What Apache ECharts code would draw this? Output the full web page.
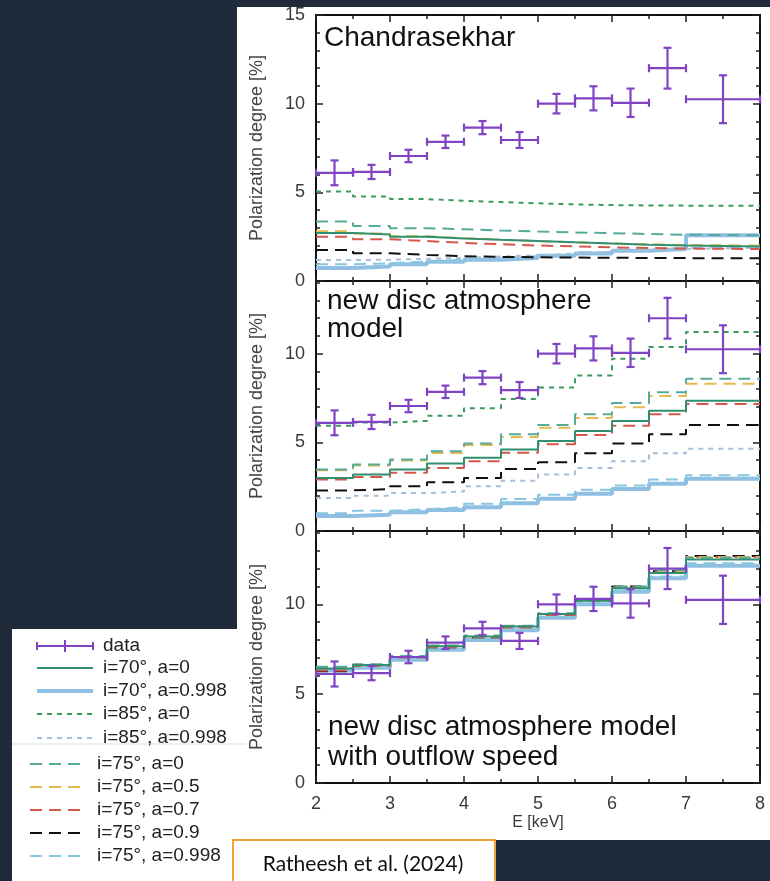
<!DOCTYPE html>
<html>
<head>
<meta charset="utf-8">
<script src="https://cdn.jsdelivr.net/npm/echarts@6/dist/echarts.min.js"></script>
<style>
  html, body { margin: 0; padding: 0; background: #1f2a3b; }
  #chart { width: 770px; height: 881px; }
</style>
</head>
<body>
<div id="chart"></div>
<script>
// energy bins [keV]; the last bin is 7-8
const binEdges = [2, 2.5, 3, 3.5, 4, 4.5, 5, 5.5, 6, 6.5, 7, 8];

// measured polarization degree (same in all three panels)
const dataE = [2.25, 2.75, 3.25, 3.75, 4.25, 4.75, 5.25, 5.75, 6.25, 6.75, 7.5];
const dataEErr = [0.25, 0.25, 0.25, 0.25, 0.25, 0.25, 0.25, 0.25, 0.25, 0.25, 0.5];
const dataPD = [6.1, 6.15, 7.05, 7.85, 8.65, 7.95, 10.0, 10.3, 10.05, 12.0, 10.25];
const dataPDErr = [0.7, 0.4, 0.35, 0.35, 0.37, 0.45, 0.55, 0.68, 0.8, 1.15, 1.35];

// panel 1: Chandrasekhar
const ch_i70a0   = [2.7, 2.62, 2.5, 2.4, 2.32, 2.25, 2.18, 2.12, 2.05, 2.0, 1.95];
const ch_i70a998 = [0.73, 0.82, 0.95, 1.08, 1.2, 1.3, 1.42, 1.55, 1.7, 1.8, 2.58];
const ch_i85a0   = [5.04, 4.76, 4.62, 4.52, 4.45, 4.38, 4.32, 4.28, 4.26, 4.25, 4.25];
const ch_i85a998 = [1.18, 1.2, 1.25, 1.3, 1.38, 1.45, 1.55, 1.65, 1.72, 1.8, 1.88];
const ch_i75a0   = [3.35, 3.1, 2.98, 2.92, 2.85, 2.79, 2.74, 2.7, 2.65, 2.61, 2.57];
const ch_i75a05  = [2.8, 2.68, 2.52, 2.42, 2.33, 2.25, 2.18, 2.12, 2.07, 2.03, 2.0];
const ch_i75a07  = [2.5, 2.35, 2.25, 2.15, 2.07, 2.0, 1.95, 1.9, 1.86, 1.83, 1.8];
const ch_i75a09  = [1.75, 1.56, 1.47, 1.4, 1.36, 1.34, 1.32, 1.31, 1.3, 1.29, 1.28];
const ch_i75a998 = [0.95, 1.0, 1.1, 1.2, 1.3, 1.4, 1.5, 1.62, 1.75, 1.85, 1.95];

// panel 2: new disc atmosphere model
const nd_i70a0   = [2.99, 3.18, 3.47, 3.81, 4.13, 4.6, 5.08, 5.64, 6.21, 6.78, 7.35];
const nd_i70a998 = [0.85, 0.91, 1.06, 1.19, 1.34, 1.57, 1.82, 2.1, 2.37, 2.67, 2.94];
const nd_i85a0   = [5.93, 6.12, 6.21, 6.5, 6.93, 7.44, 8.1, 8.77, 9.72, 10.38, 11.23];
const nd_i85a998 = [1.86, 1.99, 2.14, 2.23, 2.52, 2.84, 3.18, 3.56, 3.94, 4.38, 4.64];
const nd_i75a0   = [3.47, 3.75, 4.03, 4.5, 4.94, 5.45, 5.98, 6.59, 7.22, 7.82, 8.58];
const nd_i75a05  = [3.42, 3.7, 3.98, 4.4, 4.85, 5.3, 5.82, 6.38, 6.98, 7.62, 8.3];
const nd_i75a07  = [2.9, 3.05, 3.28, 3.56, 3.94, 4.41, 4.89, 5.42, 5.93, 6.59, 7.16];
const nd_i75a09  = [2.29, 2.37, 2.52, 2.75, 2.99, 3.5, 3.88, 4.38, 4.94, 5.45, 5.98];
const nd_i75a998 = [1.0, 1.14, 1.23, 1.34, 1.53, 1.8, 2.05, 2.33, 2.56, 2.9, 3.14];

// panel 3: new disc atmosphere model with outflow speed
const of_i70a0   = [6.4, 6.6, 7.05, 7.65, 8.2, 8.75, 9.45, 10.2, 10.9, 11.75, 12.5];
const of_i70a998 = [6.3, 6.45, 6.9, 7.45, 8.0, 8.55, 9.25, 10.0, 10.7, 11.45, 12.15];
const of_i75a0   = [6.5, 6.65, 7.1, 7.7, 8.25, 8.8, 9.5, 10.3, 11.0, 11.9, 12.6];
const of_i75a05  = [6.45, 6.62, 7.08, 7.68, 8.22, 8.78, 9.48, 10.25, 10.95, 11.8, 12.65];
const of_i75a07  = [6.3, 6.55, 7.02, 7.6, 8.15, 8.7, 9.4, 10.2, 10.95, 11.8, 12.65];
const of_i75a09  = [6.25, 6.6, 7.05, 7.6, 8.15, 8.75, 9.45, 10.25, 11.0, 11.85, 12.7];
const of_i75a998 = [6.35, 6.5, 6.95, 7.5, 8.05, 8.6, 9.3, 10.05, 10.75, 11.55, 12.3];

const panelTitles = [['Chandrasekhar'], ['new disc atmosphere', 'model'], ['new disc atmosphere model', 'with outflow speed']];
const yMax = [15, 14.1, 14.1];
const legendLabels = ['data', 'i=70°, a=0', 'i=70°, a=0.998', 'i=85°, a=0', 'i=85°, a=0.998',
  'i=75°, a=0', 'i=75°, a=0.5', 'i=75°, a=0.7', 'i=75°, a=0.9', 'i=75°, a=0.998'];

const panels = [
  { i70a0: ch_i70a0, i70a998: ch_i70a998, i85a0: ch_i85a0, i85a998: ch_i85a998, i75a0: ch_i75a0,
    i75a05: ch_i75a05, i75a07: ch_i75a07, i75a09: ch_i75a09, i75a998: ch_i75a998 },
  { i70a0: nd_i70a0, i70a998: nd_i70a998, i85a0: nd_i85a0, i85a998: nd_i85a998, i75a0: nd_i75a0,
    i75a05: nd_i75a05, i75a07: nd_i75a07, i75a09: nd_i75a09, i75a998: nd_i75a998 },
  { i70a0: of_i70a0, i70a998: of_i70a998, i75a0: of_i75a0,
    i75a05: of_i75a05, i75a07: of_i75a07, i75a09: of_i75a09, i75a998: of_i75a998 }
];

const PURPLE = '#8043c2';
const SHORT = [5, 5];
const LONG = [12, 7];
// draw order, back to front; leg = index into legendLabels
const models = [
  { key: 'i70a998', leg: 2, color: '#8fc0e4', width: 4, dash: 'solid' },
  { key: 'i75a998', leg: 9, color: '#88c6de', width: 2, dash: LONG },
  { key: 'i85a998', leg: 4, color: '#a6bed8', width: 2, dash: SHORT },
  { key: 'i75a09', leg: 8, color: '#111111', width: 2, dash: LONG },
  { key: 'i75a07', leg: 7, color: '#d3584b', width: 2, dash: LONG },
  { key: 'i75a05', leg: 6, color: '#e6b94e', width: 2, dash: LONG },
  { key: 'i75a0', leg: 5, color: '#55aa9c', width: 2, dash: LONG },
  { key: 'i85a0', leg: 3, color: '#3c9a5f', width: 2, dash: SHORT },
  { key: 'i70a0', leg: 1, color: '#2f8f6f', width: 2, dash: 'solid' }
];

const gridTop = [15, 281, 531];
const gridH = [266, 250, 252];
const FONT = 'Liberation Sans';

function steps(vals) {
  return binEdges.map((e, i) => [e, vals[Math.min(i, vals.length - 1)]]);
}

const tickStyle = { color: '#222', width: 1.5 };

const grids = gridTop.map((t, g) => ({
  left: 316, width: 444, top: t, height: gridH[g],
  show: true, borderColor: '#111', borderWidth: 2, backgroundColor: 'transparent'
}));

const xAxes = [];
const yAxes = [];
for (let g = 0; g < 3; g++) {
  ['bottom', 'top'].forEach(pos => {
    const labelled = g === 2 && pos === 'bottom';
    xAxes.push({
      gridIndex: g, type: 'value', position: pos, min: 2, max: 8, interval: 1,
      axisLine: { show: false, onZero: false },
      axisTick: { inside: true, length: 7, lineStyle: tickStyle },
      minorTick: { show: true, splitNumber: 2, length: 4, lineStyle: tickStyle },
      splitLine: { show: false },
      axisLabel: { show: labelled, margin: 12, fontSize: 18, color: '#3a3a3a', fontFamily: FONT },
      name: labelled ? 'E [keV]' : '', nameLocation: 'middle', nameGap: 32,
      nameTextStyle: { fontSize: 16, color: '#3a3a3a', fontFamily: FONT }
    });
  });
  ['left', 'right'].forEach(pos => {
    const main = pos === 'left';
    yAxes.push({
      gridIndex: g, type: 'value', position: pos, min: 0, max: yMax[g], interval: 5,
      axisLine: { show: false, onZero: false },
      axisTick: { inside: true, length: 7, lineStyle: tickStyle },
      splitLine: { show: false },
      axisLabel: {
        show: main, margin: 11, fontSize: 18, color: '#3a3a3a', fontFamily: FONT,
        formatter: v => (v % 5 === 0 ? String(v) : '')
      },
      name: main ? 'Polarization degree [%]' : '', nameLocation: 'middle', nameGap: 50,
      nameTextStyle: { fontSize: 18, color: '#444', fontFamily: FONT }
    });
    yAxes.push({
      gridIndex: g, type: 'value', position: pos, min: 0, max: yMax[g], interval: 1,
      axisLine: { show: false, onZero: false },
      axisTick: { inside: true, length: 4, lineStyle: tickStyle },
      splitLine: { show: false }, axisLabel: { show: false }
    });
  });
}

const series = [];
panels.forEach((p, g) => {
  models.forEach(m => {
    if (!p[m.key]) return;
    series.push({
      type: 'line', name: legendLabels[m.leg], xAxisIndex: g * 2, yAxisIndex: g * 4,
      data: steps(p[m.key]), step: 'end', symbol: 'none', silent: true, z: 3,
      lineStyle: { color: m.color, width: m.width, type: m.dash }
    });
  });
  series.push({
    type: 'custom', name: 'data', xAxisIndex: g * 2, yAxisIndex: g * 4, z: 5, silent: true,
    data: dataE.map((e, i) => [e, dataPD[i], dataEErr[i], dataPDErr[i]]),
    encode: { x: 0, y: 1 },
    renderItem: (params, api) => {
      const x = api.value(0), y = api.value(1), xe = api.value(2), ye = api.value(3);
      const l = api.coord([x - xe, y]), r = api.coord([x + xe, y]);
      const t = api.coord([x, y + ye]), b = api.coord([x, y - ye]);
      const c = 4;
      const st = { stroke: PURPLE, lineWidth: 2.2 };
      const seg = (x1, y1, x2, y2) => ({ type: 'line', shape: { x1, y1, x2, y2 }, style: st });
      return {
        type: 'group', children: [
          seg(l[0], l[1], r[0], r[1]), seg(t[0], t[1], b[0], b[1]),
          seg(l[0], l[1] - c, l[0], l[1] + c), seg(r[0], r[1] - c, r[0], r[1] + c),
          seg(t[0] - c, t[1], t[0] + c, t[1]), seg(b[0] - c, b[1], b[0] + c, b[1])
        ]
      };
    }
  });
});

// page furniture: white figure, legend card, citation box, panel captions
const graphic = [
  { type: 'rect', z: -10, shape: { x: 237, y: 7, width: 533, height: 833 }, style: { fill: '#fff' } },
  { type: 'rect', z: -10, shape: { x: 12, y: 629, width: 236, height: 252 }, style: { fill: '#fff' } },
  { type: 'line', z: -9, shape: { x1: 12, y1: 744, x2: 246, y2: 744 }, style: { stroke: '#dcdcdc', lineWidth: 1 } },
  { type: 'rect', z: 10, shape: { x: 233, y: 840, width: 262, height: 45 },
    style: { fill: '#fff', stroke: '#f5a035', lineWidth: 2 } },
  { type: 'text', z: 11, x: 363, y: 864,
    style: { text: 'Ratheesh et al. (2024)', fill: '#111', font: '21px Lato', align: 'center', verticalAlign: 'middle' } }
];

const captionPos = [[324, [38]], [327, [301, 329]], [328, [727, 757]]];
panelTitles.forEach((lines, g) => {
  lines.forEach((txt, k) => {
    graphic.push({
      type: 'text', z: 6, x: captionPos[g][0], y: captionPos[g][1][k],
      style: { text: txt, fill: '#111', font: '28px "Liberation Sans"', verticalAlign: 'middle' }
    });
  });
});

// legend samples
const legRowY = [646, 668, 691, 714, 738, 764, 787, 810, 833, 856];
legendLabels.forEach((lab, i) => {
  const upper = i < 5;
  const x1 = upper ? 37 : 30, x2 = upper ? 93 : 85, tx = upper ? 103 : 97;
  const y = legRowY[i];
  if (i === 0) {
    const st = { stroke: PURPLE, lineWidth: 2 };
    [[x1, y, x2, y], [x1, y - 4, x1, y + 4], [x2, y - 4, x2, y + 4], [(x1 + x2) / 2, y - 6, (x1 + x2) / 2, y + 6]]
      .forEach(s => graphic.push({ type: 'line', shape: { x1: s[0], y1: s[1], x2: s[2], y2: s[3] }, style: st }));
  } else {
    const m = models.find(mm => mm.leg === i);
    graphic.push({
      type: 'line', shape: { x1, y1: y, x2, y2: y },
      style: { stroke: m.color, lineWidth: m.width, lineDash: m.dash === 'solid' ? null : m.dash }
    });
  }
  graphic.push({
    type: 'text', x: tx, y: y,
    style: { text: lab, fill: '#222', font: '19px "Liberation Sans"', verticalAlign: 'middle' }
  });
});

const chart = echarts.init(document.getElementById('chart'));
chart.setOption({
  backgroundColor: '#1f2a3b',
  animation: false,
  grid: grids,
  xAxis: xAxes,
  yAxis: yAxes,
  series: series,
  graphic: graphic
});
</script>
</body>
</html>
